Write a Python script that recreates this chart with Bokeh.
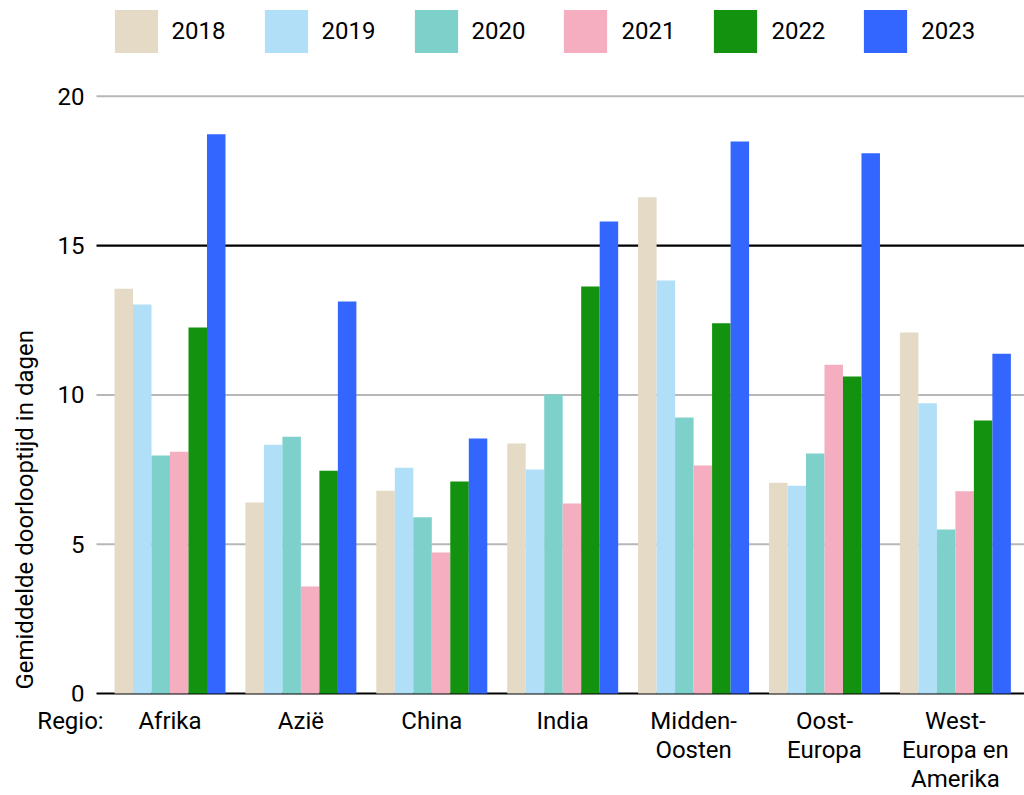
import math
from bokeh.plotting import figure
from bokeh.models import ColumnDataSource, Range1d, FixedTicker, Label, Legend, LegendItem
from bokeh.transform import dodge
from bokeh.embed import file_html
from bokeh.resources import INLINE

regions = ["Afrika", "Azië", "China", "India", "Midden-\nOosten", "Oost-\nEuropa", "West-\nEuropa en\nAmerika"]
years = ["2018", "2019", "2020", "2021", "2022", "2023"]
v2018 = [13.56, 6.40, 6.79, 8.37, 16.62, 7.06, 12.09]
v2019 = [13.03, 8.33, 7.56, 7.50, 13.83, 6.96, 9.72]
v2020 = [7.97, 8.60, 5.90, 10.01, 9.24, 8.04, 5.49]
v2021 = [8.10, 3.58, 4.72, 6.36, 7.64, 11.01, 6.77]
v2022 = [12.26, 7.46, 7.10, 13.63, 12.40, 10.62, 9.14]
v2023 = [18.73, 13.13, 8.54, 15.81, 18.49, 18.09, 11.38]
colors = ["#e4dac6", "#b0dff7", "#7ed1cb", "#f4aec0", "#12920f", "#3366ff"]
y_ticks = [0, 5, 10, 15, 20]
dark_ticks = [0, 15]
y_title = "Gemiddelde doorlooptijd in dagen"
x_prefix = "Regio:"

FONT = "Roboto"
FS = "24px"

# geometry (data units)
X_START, X_END = -1.2949, 6.528      # visible x span
AXIS_X = -0.5615                      # where the value axis sits
PREFIX_X = -0.760                     # position of the "Regio:" label
Y_START, Y_END = -0.268, 23.21

source = ColumnDataSource(dict(
    x=list(range(len(regions))),
    y2018=v2018, y2019=v2019, y2020=v2020, y2021=v2021, y2022=v2022, y2023=v2023,
))

p = figure(width=1024, height=795,
           x_range=Range1d(X_START, X_END), y_range=Range1d(Y_START, Y_END),
           output_backend="svg", toolbar_location=None,
           min_border_left=0, min_border_right=0, min_border_top=0, min_border_bottom=0)
p.outline_line_color = None
p.background_fill_color = "white"
p.border_fill_color = "white"
p.xgrid.visible = False
p.ygrid.visible = False

# horizontal reference lines (grid), starting at the value axis
gray = [t for t in y_ticks if t not in dark_ticks]
p.segment(x0=[AXIS_X] * len(gray), x1=[X_END] * len(gray), y0=gray, y1=gray,
          line_color="#b7b7b7", line_width=2)
p.segment(x0=[AXIS_X] * len(dark_ticks), x1=[X_END] * len(dark_ticks), y0=dark_ticks, y1=dark_ticks,
          line_color="black", line_width=2.2)

bw = 0.1413
items = []
for j, yr in enumerate(years):
    r = p.vbar(x=dodge("x", (j - 2.5) * bw), top="y" + yr, width=bw, bottom=0,
               source=source, fill_color=colors[j], line_color=None)
    items.append(LegendItem(label=yr, renderers=[r]))

# axes
for ax in (p.xaxis, p.yaxis):
    ax.axis_line_color = None
    ax.major_tick_line_color = None
    ax.minor_tick_line_color = None
    ax.major_tick_out = 0
    ax.major_tick_in = 0
    ax.axis_label_standoff = 0
    ax.major_label_text_font = FONT
    ax.major_label_text_font_size = FS
    ax.major_label_text_color = "black"

p.yaxis.ticker = FixedTicker(ticks=y_ticks)
p.yaxis.fixed_location = AXIS_X
p.yaxis.major_label_standoff = 12

labels = {i: r for i, r in enumerate(regions)}
labels[PREFIX_X] = x_prefix
p.xaxis.ticker = FixedTicker(ticks=[PREFIX_X] + list(range(len(regions))))
p.xaxis.major_label_overrides = labels
p.xaxis.major_label_standoff = 5
p.xaxis.major_label_text_line_height = 1.04

p.add_layout(Label(x=-1.104, y=0.13, text=y_title, angle=math.pi / 2,
                   text_align="left", text_baseline="middle",
                   text_font=FONT, text_font_size=FS, text_color="black"))

legend = Legend(items=items, orientation="horizontal", location=(108.6, 643.4),
                padding=0, margin=0, border_line_color=None, background_fill_alpha=0,
                glyph_width=54, glyph_height=54, label_standoff=9, spacing=33,
                label_text_font=FONT, label_text_font_size=FS, label_text_color="black")
p.add_layout(legend)

open("out.html", "w").write(file_html(p, INLINE))
